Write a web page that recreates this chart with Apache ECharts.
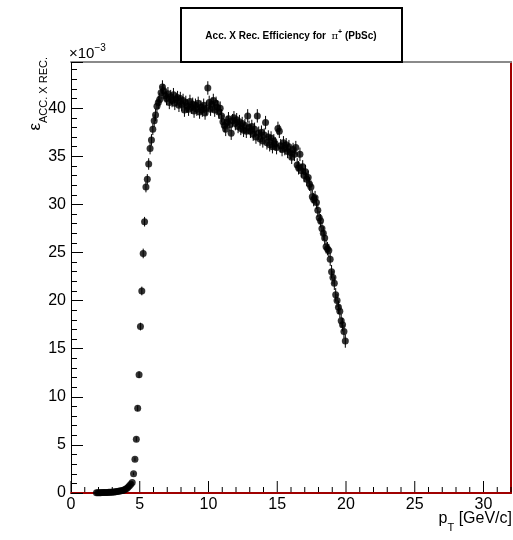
<!DOCTYPE html>
<html>
<head>
<meta charset="utf-8">
<script src="https://cdn.jsdelivr.net/npm/echarts@6/dist/echarts.min.js"></script>
<style>
  html, body { margin: 0; padding: 0; background: #fff; }
  #main { width: 513px; height: 540px; }
</style>
</head>
<body>
<div id="main"></div>
<script>
// bins of 0.1 GeV/c, first bin centre at 1.85
var binStart = 1.85;
var binWidth = 0.1;

// efficiency in units of 1e-3
var effValues = [
  0.02, 0.02, 0.03, 0.03, 0.04, 0.04, 0.05, 0.05, 0.06, 0.07,
  0.08, 0.09, 0.10, 0.11, 0.13, 0.15, 0.17, 0.20, 0.23, 0.27,
  0.32, 0.38, 0.47, 0.60, 0.75, 0.92, 1.10, 2.0, 3.5, 5.6,
  8.8, 12.3, 17.3, 21.0, 24.9, 28.2, 31.8, 32.6, 34.2, 35.8,
  36.7, 37.8, 38.7, 39.3, 40.2, 40.6, 40.9, 41.6, 42.2, 41.8,
  41.3, 41.0, 41.5, 40.6, 41.2, 40.8, 41.4, 40.5, 40.9, 41.1,
  40.3, 41.0, 40.4, 40.8, 39.8, 40.6, 40.2, 39.9, 40.7, 40.1,
  40.4, 39.7, 40.3, 39.9, 40.5, 39.6, 40.1, 39.8, 40.3, 39.5,
  40.0, 42.1, 40.6, 39.9, 40.4, 40.8, 39.8, 40.5, 40.1, 39.6,
  40.0, 39.2, 38.6, 38.2, 37.8, 38.5, 38.9, 38.3, 37.4, 38.7,
  39.0, 38.4, 38.8, 38.1, 38.6, 37.9, 38.4, 37.7, 38.2, 37.6,
  39.2, 38.0, 37.6, 38.1, 37.3, 37.8, 37.0, 39.2, 37.4, 36.8,
  37.5, 36.6, 37.2, 38.5, 36.4, 37.0, 36.2, 36.9, 36.0, 36.6,
  36.3, 35.9, 37.9, 37.6, 36.1, 35.7, 36.4, 35.8, 36.2, 35.5,
  36.0, 35.4, 34.9, 35.7, 35.2, 35.9, 34.1, 33.8, 35.2, 33.5,
  33.9, 33.0, 33.4, 32.6, 32.8, 32.1, 31.8, 30.8, 30.5, 30.7,
  30.2, 29.4, 28.6, 28.3, 27.5, 27.0, 26.5, 25.6, 25.4, 25.2,
  24.3, 23.0, 22.4, 21.8, 20.6, 20.0, 19.3, 18.9, 17.9, 17.5,
  16.8, 15.8
];

var effErrors = [
  0.01, 0.01, 0.01, 0.01, 0.01, 0.01, 0.01, 0.01, 0.01, 0.01,
  0.02, 0.02, 0.02, 0.02, 0.03, 0.03, 0.03, 0.03, 0.04, 0.04,
  0.04, 0.05, 0.05, 0.06, 0.07, 0.08, 0.09, 0.15, 0.2, 0.25,
  0.3, 0.35, 0.4, 0.45, 0.5, 0.5, 0.55, 0.55, 0.6, 0.6,
  0.6, 0.6, 0.65, 0.65, 0.65, 0.7, 0.7, 0.7, 0.7, 0.7,
  0.7, 0.7, 0.7, 0.7, 0.7, 0.7, 0.7, 0.7, 0.7, 0.7,
  0.7, 0.7, 0.7, 0.7, 0.7, 0.7, 0.7, 0.7, 0.7, 0.7,
  0.7, 0.7, 0.7, 0.7, 0.7, 0.7, 0.7, 0.7, 0.7, 0.7,
  0.7, 0.7, 0.7, 0.7, 0.7, 0.7, 0.7, 0.7, 0.7, 0.7,
  0.7, 0.7, 0.7, 0.7, 0.7, 0.7, 0.7, 0.7, 0.7, 0.7,
  0.7, 0.7, 0.7, 0.7, 0.7, 0.7, 0.7, 0.7, 0.7, 0.7,
  0.7, 0.7, 0.7, 0.7, 0.7, 0.7, 0.7, 0.7, 0.7, 0.7,
  0.7, 0.7, 0.7, 0.7, 0.7, 0.7, 0.7, 0.7, 0.7, 0.7,
  0.7, 0.7, 0.7, 0.7, 0.7, 0.7, 0.7, 0.7, 0.7, 0.7,
  0.7, 0.7, 0.7, 0.7, 0.7, 0.7, 0.7, 0.7, 0.7, 0.7,
  0.7, 0.7, 0.7, 0.7, 0.7, 0.7, 0.7, 0.7, 0.7, 0.7,
  0.7, 0.7, 0.7, 0.7, 0.7, 0.7, 0.7, 0.7, 0.7, 0.7,
  0.7, 0.7, 0.7, 0.7, 0.7, 0.7, 0.7, 0.7, 0.7, 0.7,
  0.7, 0.7
];

var xMin = 0, xMax = 32, yMin = 0, yMax = 44.8;

// x-axis tick positions (majors every 5, minors every 1) - drawn by hand below
var xTickValues = [];
for (var t = xMin; t <= xMax; t++) xTickValues.push([t, yMin]);

var points = effValues.map(function (v, i) {
  var x = +(binStart + i * binWidth).toFixed(2);
  return [x, v, effErrors[i]];
});

var font = 'Liberation Sans';
var chart = echarts.init(document.getElementById('main'));

var option = {
  animation: false,
  backgroundColor: '#fff',
  textStyle: { fontFamily: font },
  grid: { left: 71, right: 2, top: 62, bottom: 47 },
  xAxis: [{
    type: 'value', position: 'bottom', min: xMin, max: xMax, interval: 5,
    axisLine: { show: true, onZero: false, lineStyle: { color: '#a00000', width: 2 } },
    axisTick: { show: false },
    splitLine: { show: false },
    axisLabel: { color: '#000', fontSize: 16, margin: 4, showMaxLabel: false }
  }, {
    type: 'value', position: 'top', min: xMin, max: xMax,
    axisLine: { show: true, onZero: false, lineStyle: { color: '#8a8a8a', width: 2 } },
    axisTick: { show: false }, axisLabel: { show: false }, splitLine: { show: false }
  }],
  yAxis: [{
    type: 'value', position: 'left', min: yMin, max: yMax, interval: 5,
    axisLine: { show: true, onZero: false, lineStyle: { color: '#000', width: 1 } },
    axisTick: { show: true, inside: true, length: 12, lineStyle: { color: '#000' } },
    minorTick: { show: true, splitNumber: 5, length: 6, lineStyle: { color: '#000' } },
    splitLine: { show: false },
    axisLabel: { color: '#000', fontSize: 16, margin: 5, showMaxLabel: false }
  }, {
    type: 'value', position: 'right', min: yMin, max: yMax,
    axisLine: { show: true, onZero: false, lineStyle: { color: '#a00000', width: 2 } },
    axisTick: { show: false }, axisLabel: { show: false }, splitLine: { show: false }
  }],
  series: [{
    // x-axis ticks, pointing into the frame
    type: 'custom',
    data: xTickValues,
    silent: true,
    renderItem: function (params, api) {
      var v = api.value(0);
      var p = api.coord([v, yMin]);
      var len = v % 5 === 0 ? 12 : 6;
      return {
        type: 'line',
        shape: { x1: p[0], y1: p[1] - 1, x2: p[0], y2: p[1] - len },
        style: { stroke: '#000', lineWidth: 1 }
      };
    },
    encode: { x: 0, y: 1 }
  }, {
    // vertical error bars
    type: 'custom',
    data: points,
    silent: true,
    renderItem: function (params, api) {
      var x = api.value(0), y = api.value(1), e = api.value(2);
      var lo = api.coord([x, y - e]);
      var hi = api.coord([x, y + e]);
      return {
        type: 'line',
        shape: { x1: lo[0], y1: lo[1], x2: hi[0], y2: hi[1] },
        style: { stroke: '#000', lineWidth: 1 }
      };
    },
    encode: { x: 0, y: 1 }
  }, {
    type: 'scatter',
    data: points,
    symbol: 'circle',
    symbolSize: 7,
    itemStyle: { color: '#000' },
    silent: true
  }],
  graphic: [
    {
      type: 'rect',
      shape: { x: 181, y: 8, width: 221, height: 54 },
      style: { fill: '#fff', stroke: '#000', lineWidth: 2 },
      z: 10
    },
    {
      type: 'text', x: 291, y: 36, z: 11,
      style: {
        text: '{a|Acc. X Rec. Efficiency for  }{p|π}{s|+}{a| (PbSc)}',
        align: 'center', verticalAlign: 'middle', fill: '#000',
        rich: {
          a: { fontFamily: font, fontSize: 10, fontWeight: 'bold', lineHeight: 14 },
          p: { fontFamily: 'DejaVu Serif', fontSize: 10, lineHeight: 14 },
          s: { fontFamily: font, fontSize: 7, fontWeight: 'bold', verticalAlign: 'top', lineHeight: 14 }
        }
      }
    },
    {
      type: 'text', x: 69, y: 52, z: 11,
      style: {
        text: '{a|×10}{s|−3}',
        align: 'left', verticalAlign: 'middle', fill: '#000',
        rich: {
          a: { fontFamily: font, fontSize: 15, lineHeight: 18, verticalAlign: 'bottom' },
          s: { fontFamily: font, fontSize: 10, lineHeight: 18, verticalAlign: 'top' }
        }
      }
    },
    {
      type: 'text', x: 38, y: 57, rotation: Math.PI / 2, z: 11,
      style: {
        text: '{e|ε}{s|ACC. X REC.}',
        align: 'right', verticalAlign: 'middle', fill: '#000',
        rich: {
          e: { fontFamily: font, fontSize: 17, lineHeight: 22, verticalAlign: 'top' },
          s: { fontFamily: font, fontSize: 11, lineHeight: 22, verticalAlign: 'bottom' }
        }
      }
    },
    {
      type: 'text', x: 512, y: 522, z: 11,
      style: {
        text: '{a|p}{s|T}{a| [GeV/c]}',
        align: 'right', verticalAlign: 'middle', fill: '#000',
        rich: {
          a: { fontFamily: font, fontSize: 16, lineHeight: 22, verticalAlign: 'top' },
          s: { fontFamily: font, fontSize: 11, lineHeight: 22, verticalAlign: 'bottom' }
        }
      }
    }
  ]
};

chart.setOption(option);
</script>
</body>
</html>
